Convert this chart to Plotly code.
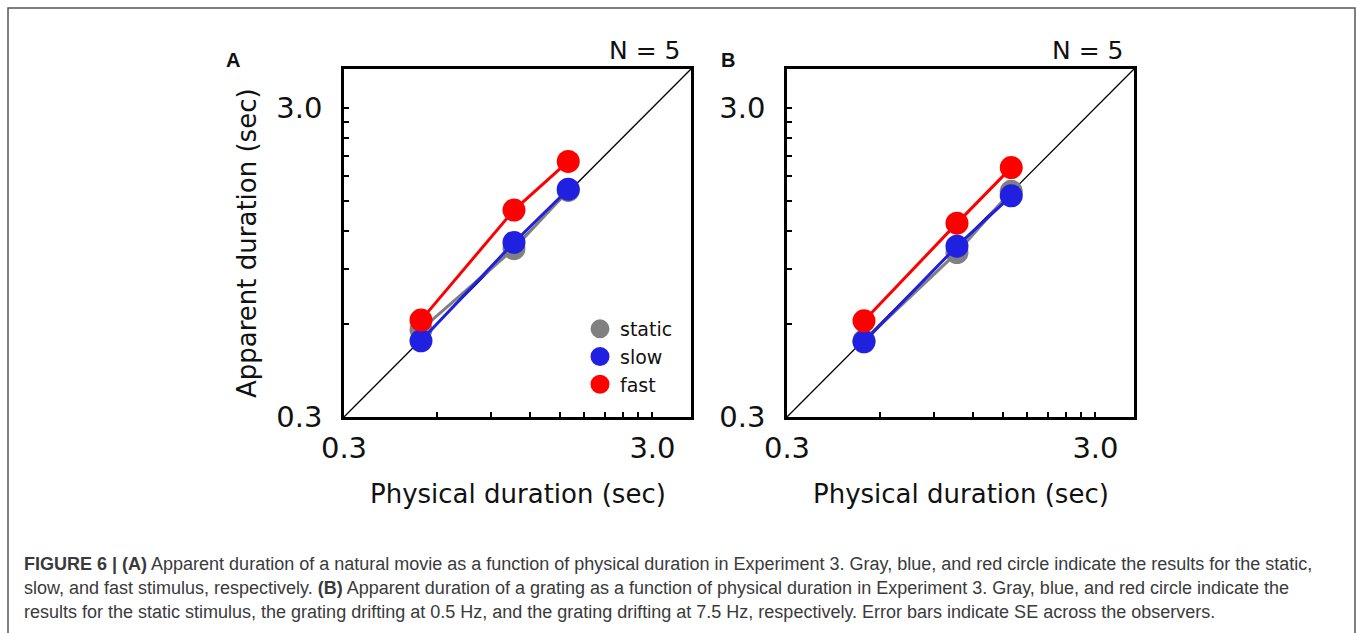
import math
import plotly.graph_objects as go

W, H = 1357, 633

# ---------------- data ----------------
physical = [0.533, 1.067, 1.6]
a_static = [0.575, 1.05, 1.62]
a_slow = [0.529, 1.10, 1.635]
a_fast = [0.617, 1.40, 2.01]
b_static = [0.53, 1.02, 1.61]
b_slow = [0.525, 1.07, 1.556]
b_fast = [0.614, 1.27, 1.92]
series_names = ["static", "slow", "fast"]
axis_limits = [0.3, 4.0]
tick_values = [0.3, 0.6, 0.9, 1.2, 1.5, 1.8, 2.1, 2.4, 2.7, 3.0]
tick_labels = ["0.3", "", "", "", "", "", "", "", "", "3.0"]

colors = {"static": "#808080", "slow": "#2020e0", "fast": "#ff0000"}
FONT = "DejaVu Sans"

def px_x(p):
    return p / W

def px_y(p):
    return 1 - p / H

fig = go.Figure()

panels = [
    ("x", "y", {"static": a_static, "slow": a_slow, "fast": a_fast}),
    ("x2", "y2", {"static": b_static, "slow": b_slow, "fast": b_fast}),
]

for xa, ya, data in panels:
    fig.add_trace(go.Scatter(x=axis_limits, y=axis_limits, mode="lines",
                             line=dict(color="black", width=1.3),
                             xaxis=xa, yaxis=ya, showlegend=False, hoverinfo="skip"))
    for name in series_names:
        fig.add_trace(go.Scatter(x=physical, y=data[name], mode="lines+markers",
                                 line=dict(color=colors[name], width=3),
                                 marker=dict(color=colors[name], size=23),
                                 xaxis=xa, yaxis=ya, showlegend=False, name=name))

# legend-only entries
for name in series_names:
    fig.add_trace(go.Scatter(x=[None], y=[None], mode="markers", name=name,
                             marker=dict(color=colors[name], size=16,
                                         line=dict(color=colors[name], width=3)),
                             xaxis="x", yaxis="y", showlegend=True))

axis_common = dict(
    type="log",
    range=[math.log10(axis_limits[0]), math.log10(axis_limits[1])],
    tickvals=tick_values, ticktext=tick_labels,
    ticks="inside", ticklen=5, tickwidth=1.5, tickcolor="black",
    showline=True, linecolor="black", linewidth=2.5, mirror=True,
    showgrid=False, zeroline=False, automargin=False,
    tickfont=dict(family=FONT, size=29, color="#111111"),
)

A_x0, A_x1 = 344, 691
B_x0, B_x1 = 787, 1134
Y_top, Y_bot = 69, 417

fig.update_layout(
    width=W, height=H,
    margin=dict(l=0, r=0, t=0, b=0, autoexpand=False),
    paper_bgcolor="white", plot_bgcolor="white",
    xaxis=dict(domain=[px_x(A_x0), px_x(A_x1)], anchor="y", ticklabelstandoff=3, **axis_common),
    yaxis=dict(domain=[px_y(Y_bot), px_y(Y_top)], anchor="x", ticklabelstandoff=13, **axis_common),
    xaxis2=dict(domain=[px_x(B_x0), px_x(B_x1)], anchor="y2", ticklabelstandoff=3, **axis_common),
    yaxis2=dict(domain=[px_y(Y_bot), px_y(Y_top)], anchor="x2", ticklabelstandoff=13, **axis_common),
    showlegend=True,
    legend=dict(x=px_x(580), y=px_y(357), xanchor="left", yanchor="middle",
                bgcolor="rgba(0,0,0,0)", font=dict(family=FONT, size=19, color="#111111"),
                itemsizing="trace", tracegroupgap=0),
)

ann = []
def add_text(text, x, y, size, xanchor="center", yanchor="middle", family=FONT,
             color="#111111", textangle=0):
    ann.append(dict(text=text, x=px_x(x), y=px_y(y), xref="paper", yref="paper",
                    xanchor=xanchor, yanchor=yanchor, showarrow=False, textangle=textangle,
                    font=dict(family=family, size=size, color=color)))

for (x0, x1, letter, lx) in [(A_x0, A_x1, "A", 224), (B_x0, B_x1, "B", 719)]:
    add_text("Physical duration (sec)", (x0 + x1) / 2, 494, 26)
    add_text("N = 5", x1 - 9, 50, 25, xanchor="right")
    add_text("<b>" + letter + "</b>", lx, 60, 20, xanchor="left", family="Liberation Sans")

add_text("Apparent duration (sec)", 247, (Y_top + Y_bot) / 2, 26, textangle=-90)

CAP = "Liberation Sans"
cap_lines = [
    "<b>FIGURE 6 | (A)</b> Apparent duration of a natural movie as a function of physical duration in Experiment 3. Gray, blue, and red circle indicate the results for the static,",
    "slow, and fast stimulus, respectively. <b>(B)</b> Apparent duration of a grating as a function of physical duration in Experiment 3. Gray, blue, and red circle indicate the",
    "results for the static stimulus, the grating drifting at 0.5 Hz, and the grating drifting at 7.5 Hz, respectively. Error bars indicate SE across the observers.",
]
for i, line in enumerate(cap_lines):
    add_text(line, 22, 564 + 24 * i, 18, xanchor="left", family=CAP, color="#3a3a3a")

fig.update_layout(annotations=ann)

fig.add_shape(type="rect", xref="paper", yref="paper",
              x0=px_x(8), x1=px_x(1355), y0=-0.1, y1=px_y(8),
              line=dict(color="#555555", width=1.5), fillcolor="rgba(0,0,0,0)", layer="below")

fig.write_html("out.html")
